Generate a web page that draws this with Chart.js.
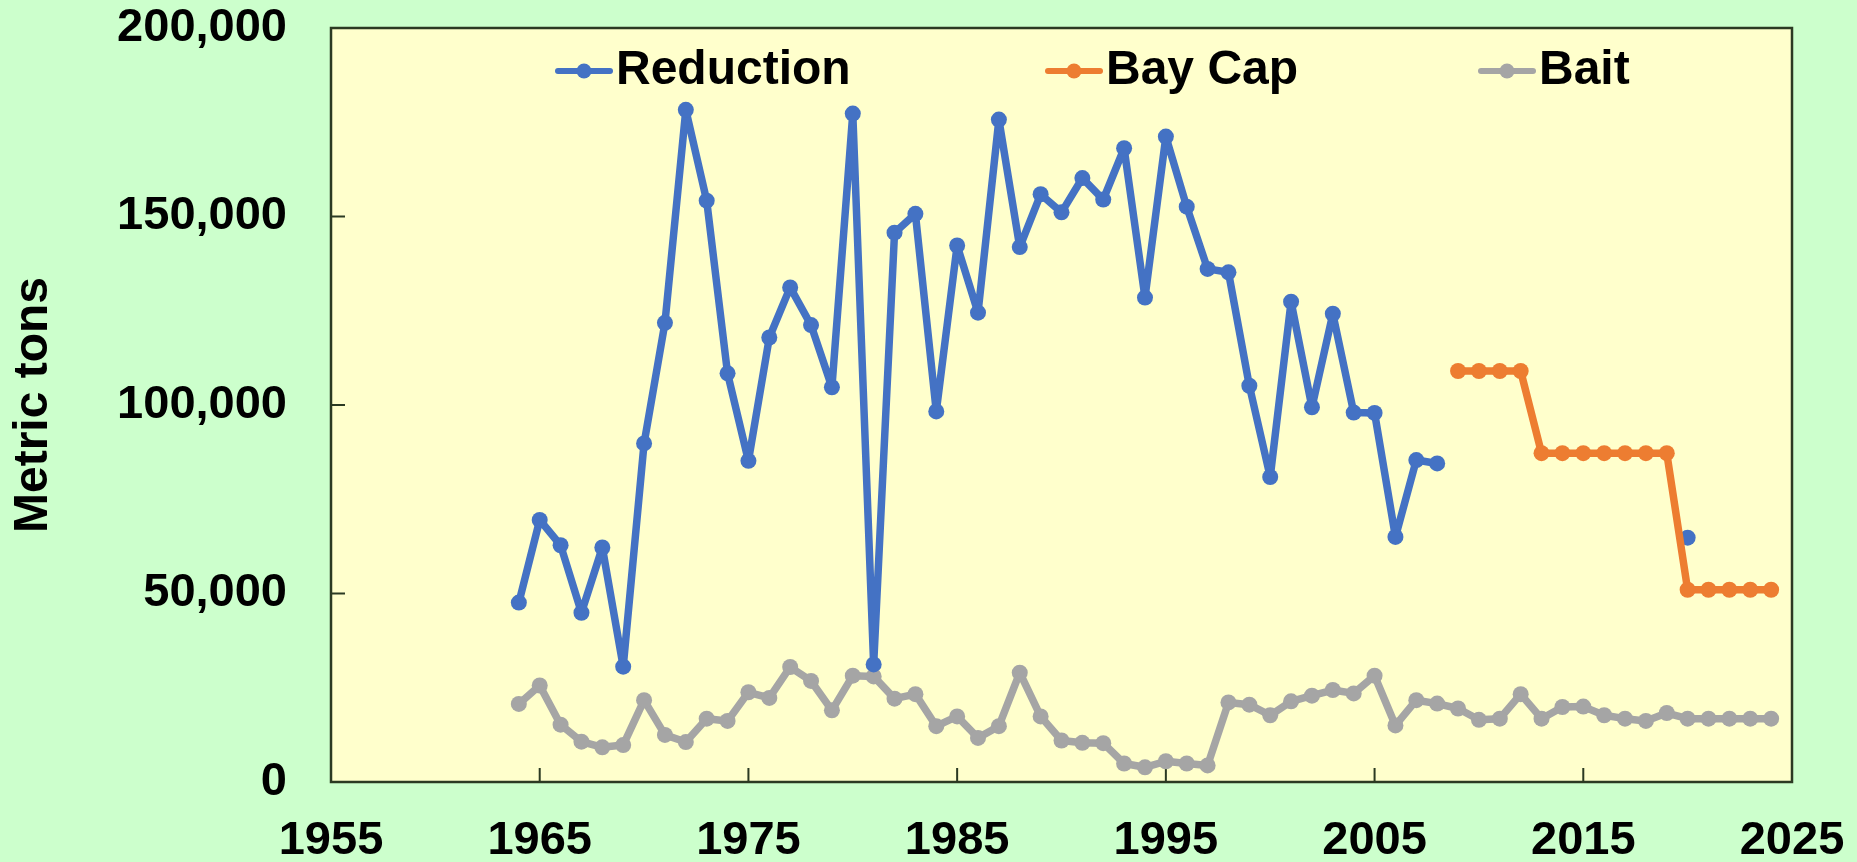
<!DOCTYPE html>
<html><head><meta charset="utf-8">
<script src="https://cdn.jsdelivr.net/npm/chart.js@4.4.1/dist/chart.umd.min.js"></script>
<style>html,body{margin:0;padding:0;background:#CCFFCC;overflow:hidden}</style>
</head><body>
<canvas id="c" width="1857" height="862" style="display:block;width:1857px;height:862px"></canvas>
<script>
const years = [1964,1965,1966,1967,1968,1969,1970,1971,1972,1973,1974,1975,1976,1977,1978,1979,
  1980,1981,1982,1983,1984,1985,1986,1987,1988,1989,1990,1991,1992,1993,1994,1995,1996,1997,1998,1999,
  2000,2001,2002,2003,2004,2005,2006,2007,2008,2009,2010,2011,2012,2013,2014,2015,2016,2017,2018,2019,
  2020,2021,2022,2023,2024];
const reduction = [47600,69500,62800,44900,62200,30600,89800,121800,178300,154200,108400,85200,117900,131200,121200,104700,
  177300,31200,145700,150700,98300,142300,124500,175700,141900,155900,151100,160200,154500,168100,128500,171200,152600,136100,135200,105100,
  80900,127400,99400,124200,98000,97900,65000,85400,84500,null,null,null,null,null,null,null,null,null,null,null,
  64800,null,null,null,null];
const bayCap = [null,null,null,null,null,null,null,null,null,null,null,null,null,null,null,null,
  null,null,null,null,null,null,null,null,null,null,null,null,null,null,null,null,null,null,null,null,
  null,null,null,null,null,null,null,null,null,109020,109020,109020,109020,87216,87216,87216,87216,87216,87216,87216,
  51000,51000,51000,51000,51000];
const bait = [20700,25600,15200,10700,9200,9800,21700,12500,10600,16800,16200,23800,22300,30500,26800,19000,
  28200,28000,22100,23300,14800,17400,11700,14800,29000,17400,11000,10400,10300,4900,3900,5500,4900,4400,21100,20500,
  17700,21400,22900,24400,23500,28200,15000,21700,20800,19500,16500,16800,23300,16800,19900,20000,17700,16800,16200,18300,
  16800,16800,16800,16800,16800];
const seriesNames = ['Reduction','Bay Cap','Bait'];
const seriesColors = ['#4472C4','#ED7D31','#A5A5A5'];
const xTickValues = [1955,1965,1975,1985,1995,2005,2015,2025];
const yTickValues = [0,50000,100000,150000,200000];

const FONT = "'Liberation Sans', Arial, Helvetica, sans-serif";
const pts = arr => years.map((y,i)=>({x:y, y:arr[i]}));

const bgPlugin = {
  id:'bg',
  beforeDraw(chart){
    const {ctx, chartArea:a} = chart;
    ctx.save();
    ctx.fillStyle = '#CCFFCC';
    ctx.fillRect(0,0,chart.width,chart.height);
    ctx.fillStyle = '#FFFFCC';
    ctx.fillRect(a.left,a.top,a.right-a.left,a.bottom-a.top);
    ctx.restore();
  },
  beforeDatasetsDraw(chart){
    const {ctx, chartArea:a, scales} = chart;
    ctx.save();
    ctx.strokeStyle = '#2B3A22';
    ctx.lineWidth = 2.5;
    ctx.strokeRect(a.left,a.top,a.right-a.left,a.bottom-a.top);
    ctx.lineWidth = 2;
    ctx.beginPath();
    scales.y.ticks.forEach(t=>{
      const py = scales.y.getPixelForValue(t.value);
      ctx.moveTo(a.left,py); ctx.lineTo(a.left+14,py);
    });
    scales.x.ticks.forEach(t=>{
      const px = scales.x.getPixelForValue(t.value);
      ctx.moveTo(px,a.bottom); ctx.lineTo(px,a.bottom-14);
    });
    ctx.stroke();
    ctx.restore();
  }
};

const legendPlugin = {
  id:'customLegend',
  afterDraw(chart){
    const {ctx, chartArea:a} = chart;
    const starts = [224, 714, 1147];
    const cy = a.top + 43;
    ctx.save();
    chart.data.datasets.forEach((ds,i)=>{
      const x0 = a.left + starts[i];
      ctx.strokeStyle = ds.borderColor;
      ctx.lineWidth = 6;
      ctx.lineCap = 'round';
      ctx.beginPath(); ctx.moveTo(x0+3,cy); ctx.lineTo(x0+55,cy); ctx.stroke();
      ctx.fillStyle = ds.borderColor;
      ctx.beginPath(); ctx.arc(x0+29,cy,7.5,0,Math.PI*2); ctx.fill();
      ctx.fillStyle = '#000';
      ctx.font = 'bold 48px ' + FONT;
      ctx.textBaseline = 'middle';
      ctx.textAlign = 'left';
      ctx.fillText(ds.label, x0+61, cy);
    });
    ctx.restore();
  }
};

const mk = (idx, arr, order) => ({
  label: seriesNames[idx],
  data: pts(arr),
  borderColor: seriesColors[idx],
  backgroundColor: seriesColors[idx],
  pointBackgroundColor: seriesColors[idx],
  pointBorderWidth: 0,
  pointRadius: 8,
  pointHoverRadius: 8,
  borderWidth: 7.5,
  borderJoinStyle: 'round',
  borderCapStyle: 'round',
  tension: 0,
  spanGaps: false,
  order: order
});

new Chart(document.getElementById('c'), {
  type: 'line',
  data: { datasets: [ mk(0, reduction, 1), mk(1, bayCap, 0), mk(2, bait, 2) ] },
  options: {
    responsive: false,
    animation: false,
    devicePixelRatio: 1,
    layout: { padding: { top: 28, right: 65, left: 0, bottom: 0 } },
    plugins: { legend: { display: false }, tooltip: { enabled: false } },
    events: [],
    scales: {
      x: {
        type: 'linear', min: 1955, max: 2025,
        afterBuildTicks: s => { s.ticks = xTickValues.map(v=>({value:v})); },
        afterFit: s => { s.height = 80; s.paddingLeft = 0; s.paddingRight = 0; },
        grid: { display: false, drawTicks: false },
        border: { display: false },
        ticks: { color: '#000', padding: 31, maxRotation: 0, autoSkip: false,
          font: { family: FONT, size: 47, weight: 'bold' },
          callback: v => String(v) }
      },
      y: {
        min: 0, max: 200000,
        afterBuildTicks: s => { s.ticks = yTickValues.map(v=>({value:v})); },
        afterFit: s => { s.width = 331; s.paddingTop = 0; s.paddingBottom = 0; },
        grid: { display: false, drawTicks: false },
        border: { display: false },
        title: { display: true, text: 'Metric tons', color: '#000',
          font: { family: FONT, size: 48, weight: 'bold' }, padding: { top: 5, bottom: 0 } },
        ticks: { color: '#000', padding: 44,
          font: { family: FONT, size: 47, weight: 'bold' },
          callback: v => Number(v).toLocaleString('en-US') }
      }
    }
  },
  plugins: [bgPlugin, legendPlugin]
});
</script>
</body></html>
